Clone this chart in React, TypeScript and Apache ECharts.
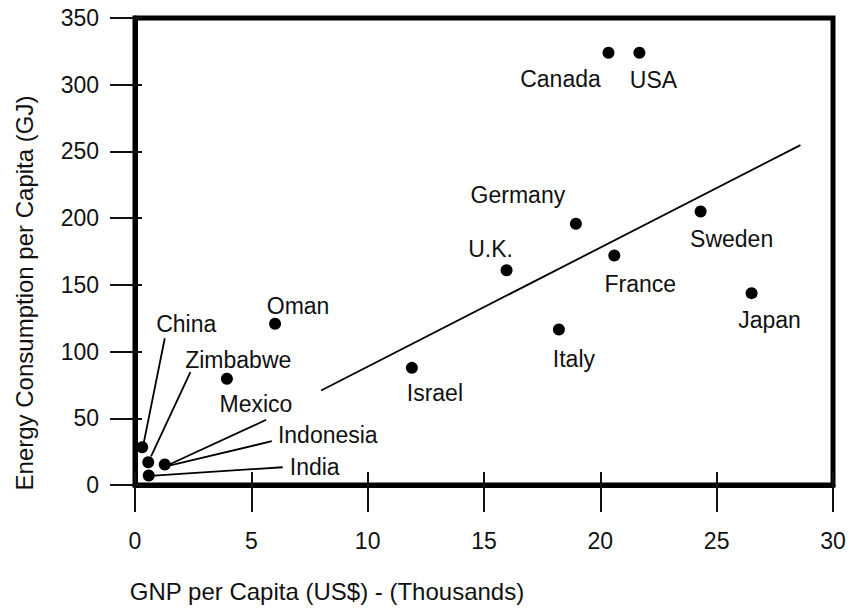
import React, { useEffect, useRef } from "react";
import * as echarts from "echarts";

const countries = ["China", "Zimbabwe", "Indonesia", "India", "Mexico", "Oman", "Israel", "U.K.", "Italy", "Germany", "France", "Canada", "USA", "Sweden", "Japan"];
const gnpThousands = [0.31, 0.57, 1.28, 0.59, 3.95, 6.02, 11.9, 15.97, 18.22, 18.95, 20.6, 20.35, 21.68, 24.31, 26.5];
const energyGJ = [28.3, 17.1, 15.4, 7.1, 79.6, 120.8, 87.8, 161.0, 116.5, 195.8, 172.0, 324.0, 324.0, 205.0, 143.8];

// label placement (pixel offsets from each dot)
const labelOffsets: [number, number][] = [
  [44, -123], [90, -102], [163, -29], [166, -9], [29, 25], [23, -18], [23, 25],
  [-16, -21], [15, 29], [-58, -29], [26, 28], [-48, 26], [14, 27], [31, 28], [18, 27],
];

// fitted trend line endpoints
const trendX = [8.0, 28.6];
const trendY = [70.8, 254.7];

// leader lines from labels to dots: [xFrom, yFrom, xTo, yTo]
const leaderLines: [number, number, number, number][] = [
  [1.28, 110.0, 0.38, 32.0],
  [2.38, 84.6, 0.69, 21.4],
  [5.64, 48.9, 1.38, 14.6],
  [5.88, 32.8, 1.38, 14.1],
  [6.35, 13.3, 0.81, 7.1],
];

const xMin = 0, xMax = 30, xStep = 5;
const yMin = 0, yMax = 350, yStep = 50;

const FONT = '"Liberation Sans", Arial, sans-serif';
const INK = "#111";

export default function App() {
  const ref = useRef<HTMLDivElement>(null);
  useEffect(() => {
    if (!ref.current) return;
    const chart = echarts.init(ref.current, null, { renderer: "svg" });
    const tickStyle = { color: INK, width: 2 };
    chart.setOption({
      animation: false,
      backgroundColor: "#fff",
      textStyle: { fontFamily: FONT },
      grid: { left: 135, right: 18, top: 18, bottom: 126, show: true, borderColor: "#000", borderWidth: 5 },
      xAxis: [
        {
          type: "value", min: xMin, max: xMax, interval: xStep, position: "bottom",
          axisLine: { show: true, lineStyle: { color: "#000", width: 5 } },
          axisTick: { show: true, inside: false, length: 27, lineStyle: tickStyle },
          axisLabel: { margin: 44, fontSize: 23, color: INK, fontFamily: FONT },
          splitLine: { show: false },
          name: "GNP per Capita (US$) - (Thousands)",
          nameLocation: "middle", nameGap: 94,
          nameTextStyle: { fontSize: 24, color: INK, fontFamily: FONT, padding: [0, 314, 0, 0] },
        },
        {
          type: "value", min: xMin, max: xMax, interval: xStep, position: "bottom",
          axisLine: { show: false },
          axisTick: { show: true, inside: true, length: 13, lineStyle: tickStyle },
          axisLabel: { show: false }, splitLine: { show: false },
        },
      ],
      yAxis: [
        {
          type: "value", min: yMin, max: yMax, interval: yStep, position: "left",
          axisLine: { show: true, lineStyle: { color: "#000", width: 5 } },
          axisTick: { show: true, inside: false, length: 25, lineStyle: tickStyle },
          axisLabel: { margin: 36, fontSize: 23, color: INK, fontFamily: FONT },
          splitLine: { show: false },
          name: "Energy Consumption per Capita (GJ)",
          nameLocation: "middle", nameGap: 99,
          nameTextStyle: { fontSize: 24, color: INK, fontFamily: FONT, padding: [0, 83, 0, 0] },
        },
        {
          type: "value", min: yMin, max: yMax, interval: yStep, position: "left",
          axisLine: { show: false },
          axisTick: { show: true, inside: true, length: 7, lineStyle: tickStyle },
          axisLabel: { show: false }, splitLine: { show: false },
        },
      ],
      series: [
        {
          type: "line", xAxisIndex: 0, yAxisIndex: 0, symbol: "none",
          data: trendX.map((x, i) => [x, trendY[i]]),
          lineStyle: { color: "#000", width: 1.8 },
        },
        {
          type: "lines", coordinateSystem: "cartesian2d", xAxisIndex: 0, yAxisIndex: 0,
          data: leaderLines.map((l) => ({ coords: [[l[0], l[1]], [l[2], l[3]]] })),
          lineStyle: { color: "#000", width: 1.8, opacity: 1 },
          symbol: "none",
        },
        {
          type: "scatter", xAxisIndex: 0, yAxisIndex: 0, symbolSize: 12,
          itemStyle: { color: "#000", opacity: 1 },
          data: countries.map((c, i) => ({
            name: c,
            value: [gnpThousands[i], energyGJ[i]],
            label: {
              show: true, position: "inside", offset: labelOffsets[i],
              formatter: c, fontSize: 23, color: INK, fontFamily: FONT,
              textBorderWidth: 0,
            },
          })),
        },
      ],
    });
    return () => chart.dispose();
  }, []);
  return <div ref={ref} style={{ position: "fixed", left: 0, top: 0, width: 851, height: 611, background: "#fff" }} />;
}
